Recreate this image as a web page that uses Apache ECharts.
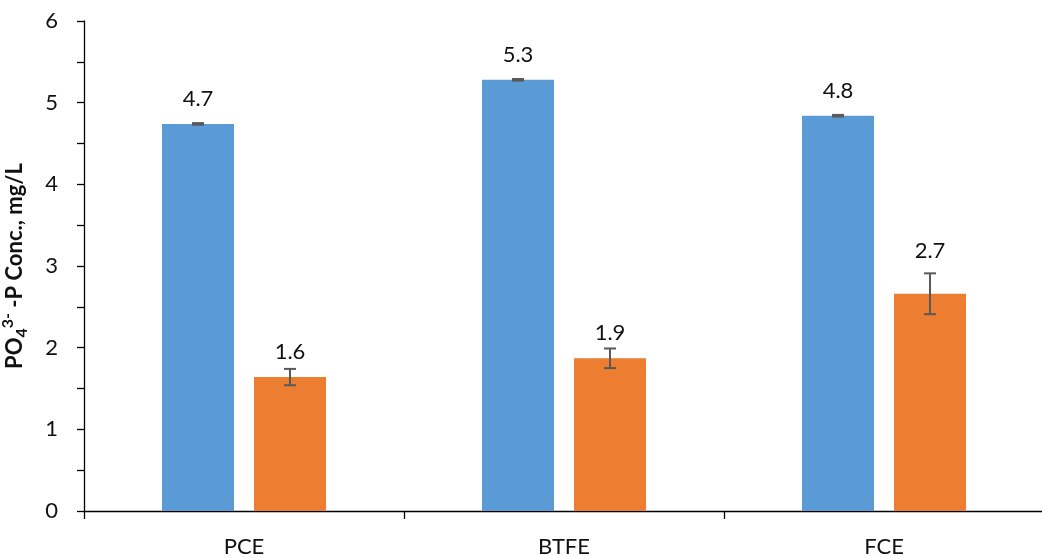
<!DOCTYPE html>
<html>
<head>
<meta charset="utf-8">
<script src="https://cdn.jsdelivr.net/npm/echarts@6/dist/echarts.min.js"></script>
<style>
  html, body { margin: 0; padding: 0; background: #fff; }
  #chart { width: 1042px; height: 556px; }
</style>
</head>
<body>
<div id="chart"></div>
<script>
// Phosphate concentration per electrode configuration
const categories = ['PCE', 'BTFE', 'FCE'];
const blueValues = [4.74, 5.28, 4.84];
const blueErrors = [0.01, 0.01, 0.01];
const orangeValues = [1.64, 1.87, 2.66];
const orangeErrors = [0.10, 0.12, 0.25];
const yTicks = [0, 1, 2, 3, 4, 5, 6];

const FONT = 'Lato, "Open Sans", sans-serif';
const FONT_SIZE = 22;
const BAR_W = 72;
const BAR_GAP = 20;
const BLUE = '#5B9BD5';
const ORANGE = '#ED7D31';

const chart = echarts.init(document.getElementById('chart'), null, { renderer: 'canvas' });

// whiskers + value labels, drawn over each bar
function errorSeries(name, values, errors, side) {
  const data = values.map((v, i) => [i, v, errors[i]]);
  return {
    name: name,
    type: 'custom',
    z: 5,
    data: data,
    renderItem: function (params, api) {
      const idx = api.value(0);
      const v = api.value(1);
      const e = api.value(2);
      const shift = side * (BAR_W + BAR_GAP) / 2;
      const top = api.coord([idx, v + e]);
      const mid = api.coord([idx, v]);
      const bot = api.coord([idx, v - e]);
      const x = top[0] + shift;
      const cap = 6;
      const style = { stroke: '#595959', lineWidth: 2 };
      // label sits 25px above the bar unless the whisker would reach it
      let labelY = mid[1] - 25;
      if (top[1] < mid[1] - 17) labelY = top[1] - 22;
      return {
        type: 'group',
        children: [
          { type: 'line', shape: { x1: x, y1: top[1], x2: x, y2: bot[1] }, style: style },
          { type: 'line', shape: { x1: x - cap, y1: top[1], x2: x + cap, y2: top[1] }, style: style },
          { type: 'line', shape: { x1: x - cap, y1: bot[1], x2: x + cap, y2: bot[1] }, style: style },
          {
            type: 'text',
            style: {
              x: x, y: labelY,
              text: v.toFixed(1),
              align: 'center', verticalAlign: 'middle',
              font: FONT_SIZE + 'px ' + FONT,
              fill: '#111'
            }
          }
        ]
      };
    }
  };
}

const option = {
  animation: false,
  backgroundColor: '#fff',
  grid: { left: 84, right: -2, top: 21, bottom: 45, containLabel: false, outerBoundsMode: 'none' },
  xAxis: {
    type: 'category',
    data: categories,
    axisLine: { lineStyle: { color: '#000', width: 1.3 } },
    axisTick: { show: true, length: 8, lineStyle: { color: '#000', width: 1.3 } },
    axisLabel: { color: '#111', fontSize: FONT_SIZE, fontFamily: FONT, margin: 25 }
  },
  yAxis: {
    type: 'value',
    min: yTicks[0],
    max: yTicks[yTicks.length - 1],
    interval: 1,
    name: '{b|PO}{sub|4}{sup|3-}{b| -P Conc., mg/L}',
    nameLocation: 'middle',
    nameGap: 54,
    nameRotate: 90,
    nameTextStyle: {
      rich: {
        b: { fontSize: 22, fontWeight: 'bold', fontFamily: FONT, color: '#111', lineHeight: 30, verticalAlign: 'middle' },
        sub: { fontSize: 16, fontWeight: 'bold', fontFamily: FONT, color: '#111', lineHeight: 15, verticalAlign: 'bottom' },
        sup: { fontSize: 16, fontWeight: 'bold', fontFamily: FONT, color: '#111', lineHeight: 15, verticalAlign: 'top' }
      }
    },
    axisLine: { show: true, lineStyle: { color: '#000', width: 1.3 } },
    axisTick: { show: true, length: 7, lineStyle: { color: '#000', width: 1.3 } },
    minorTick: { show: true, splitNumber: 2, length: 7, lineStyle: { color: '#000', width: 1.3 } },
    splitLine: { show: false },
    axisLabel: { color: '#111', fontSize: FONT_SIZE, fontFamily: FONT, margin: 26 }
  },
  series: [
    {
      name: 'blue', type: 'bar', data: blueValues, barWidth: BAR_W,
      barGap: (BAR_GAP / BAR_W * 100) + '%',
      itemStyle: { color: BLUE }
    },
    {
      name: 'orange', type: 'bar', data: orangeValues, barWidth: BAR_W,
      barGap: (BAR_GAP / BAR_W * 100) + '%',
      itemStyle: { color: ORANGE }
    },
    errorSeries('blueErr', blueValues, blueErrors, -1),
    errorSeries('orangeErr', orangeValues, orangeErrors, 1)
  ]
};

chart.setOption(option);
</script>
</body>
</html>
